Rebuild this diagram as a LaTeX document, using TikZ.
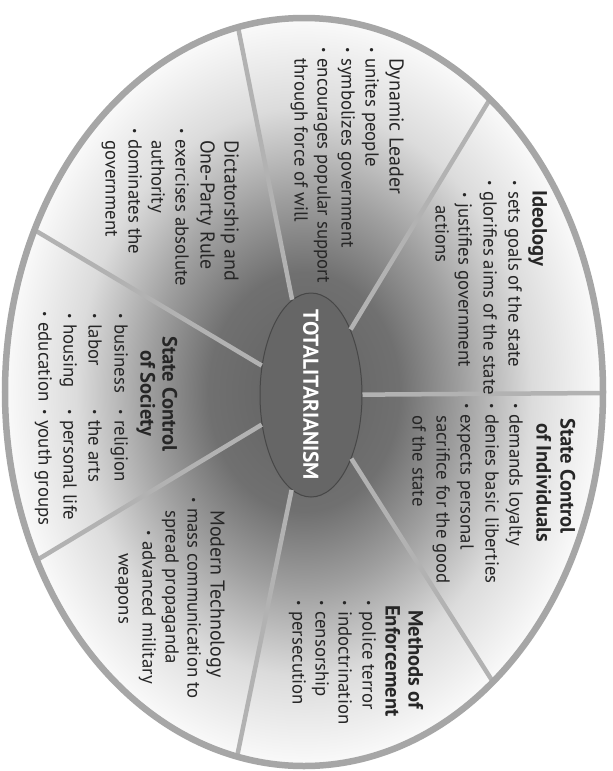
\documentclass[tikz,border=0pt]{standalone}
\usepackage{fontspec}
\setmainfont{PT Sans}
\usetikzlibrary{shapes.geometric}
\pgfdeclareradialshading{wheelshade}{\pgfpoint{0bp}{0bp}}{color(0bp)=(black!62); color(8bp)=(black!56); color(13bp)=(black!38); color(19bp)=(black!14); color(26bp)=(white); color(50bp)=(white)}
\newcommand\bul{\raisebox{0.12em}{\fontsize{12}{12}\selectfont •}\hspace{0.3em}}
\begin{document}
\begin{tikzpicture}[x=1pt,y=-1pt,
  txt/.style={rotate=-90, anchor=mid west, inner sep=0pt, font=\fontsize{18.8}{22}\selectfont, text=black!85},
  ttl/.style={txt, font=\fontsize{20.6}{22}\selectfont\bfseries},
  ttlr/.style={txt, font=\fontsize{20}{22}\selectfont},
  spoke/.style={draw=black!30, line width=4.5pt},
  ring/.style={draw=black!35, line width=6.5pt}]
\useasboundingbox (0,0) rectangle (613,771);
\fill[white] (0,0) rectangle (613,771);
\shade[shading=wheelshade] (304,392) ellipse [x radius=299pt, y radius=374pt];
% spoke ends on the rim
\coordinate (s1) at (238,27);
\coordinate (s2) at (490,99);
\coordinate (s3) at (603,393);
\coordinate (s4) at (493,682);
\coordinate (s5) at (237,757);
\coordinate (s6) at (37,560);
\coordinate (s7) at (34.5,230);
% central oval
\node[ellipse, rotate=-90, minimum width=204pt, minimum height=102pt, inner sep=0pt,
      fill=black!60, draw=black!72, line width=1pt] (oval) at (311,395) {};
\foreach \s in {s1,s2,s3,s4,s5,s6,s7} \draw[spoke] (oval) -- (\s);
\node[rotate=-90, inner sep=0pt, text=white, font=\fontsize{21.5}{22}\selectfont\bfseries] (ovaltext) at (311,395) {TOTALITARIANISM};
\draw[ring] (304,392) ellipse [x radius=299pt, y radius=374pt];
% Dynamic Leader
\node[ttlr] (dl0) at (392,58) {Dynamic Leader};
\node[txt] (dl1) at (368,47) {\bul unites people};
\node[txt] (dl2) at (344,47) {\bul symbolizes government};
\node[txt] (dl3) at (320,47) {\bul encourages popular support};
\node[txt] (dl4) at (297,58) {through force of will};
% Ideology
\node[ttl] (id0) at (535,190) {Ideology};
\node[txt] (id1) at (511,180) {\bul sets goals of the state};
\node[txt] (id2) at (486,180) {\bul glorifies aims of the state};
\node[txt] (id3) at (461,192) {\bul justifies government};
\node[txt] (id4) at (438,205) {actions};
% State Control of Individuals
\node[ttl] (ci0) at (563,418) {State Control};
\node[ttl] (ci1) at (539,423) {of Individuals};
\node[txt] (ci2) at (512,403) {\bul demands loyalty};
\node[txt] (ci3) at (488,403) {\bul denies basic liberties};
\node[txt] (ci4) at (463,403) {\bul expects personal};
\node[txt] (ci5) at (439,415) {sacrifice for the good};
\node[txt] (ci6) at (415,415) {of the state};
% Methods of Enforcement
\node[ttl] (me0) at (411,610) {Methods of};
\node[ttl] (me1) at (388,605) {Enforcement};
\node[txt] (me2) at (365,600) {\bul police terror};
\node[txt] (me3) at (341,600) {\bul indoctrination};
\node[txt] (me4) at (318,600) {\bul censorship};
\node[txt] (me5) at (295,600) {\bul persecution};
% Modern Technology
\node[ttlr] (mt0) at (213,510) {Modern Technology};
\node[txt] (mt1) at (190,497) {\bul mass communication to};
\node[txt] (mt2) at (168,510) {spread propaganda};
\node[txt] (mt3) at (145,530) {\bul advanced military};
\node[txt] (mt4) at (121,553) {weapons};
% State Control of Society
\node[ttl] (cs0) at (165,336) {State Control};
\node[ttl] (cs1) at (143,350) {of Society};
\node[txt] (cs2) at (117,313) {\bul business};
\node[txt] (cs3) at (117,409) {\bul religion};
\node[txt] (cs4) at (91,313) {\bul labor};
\node[txt] (cs5) at (91,409) {\bul the arts};
\node[txt] (cs6) at (66,313) {\bul housing};
\node[txt] (cs7) at (66,409) {\bul personal life};
\node[txt] (cs8) at (41,311) {\bul education};
\node[txt] (cs9) at (41,409) {\bul youth groups};
% Dictatorship and One-Party Rule
\node[ttlr] (dp0) at (227,140) {Dictatorship and};
\node[ttlr] (dp1) at (203,140) {One-Party Rule};
\node[txt] (dp2) at (178,128) {\bul exercises absolute};
\node[txt] (dp3) at (154,140) {authority};
\node[txt] (dp4) at (131,128) {\bul dominates the};
\node[txt] (dp5) at (108,140) {government};
\end{tikzpicture}
\end{document}
